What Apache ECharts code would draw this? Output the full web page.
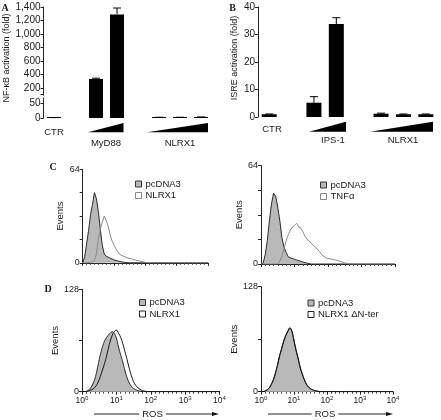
<!DOCTYPE html>
<html><head><meta charset="utf-8">
<script src="https://cdn.jsdelivr.net/npm/echarts@6/dist/echarts.min.js"></script>
<style>html,body{margin:0;padding:0;background:#fff}#c{width:441px;height:420px}</style>
</head><body><div id="c"></div>
<script>
// ---------- data ----------
const catsA = ['CTR', 'gapA1', 'MyD88 low', 'MyD88 high', 'gapA2', 'NLRX1 low', 'NLRX1 mid', 'NLRX1 high'];
const nfkbValues = [1, null, 333, 1290, null, 2, 2, 3];
const nfkbErrors = [0.3, null, 12, 95, null, 0.5, 0.5, 0.5];
const nfkbUpperTicks = [200, 400, 600, 800, 1000, 1200, 1400];
const nfkbLowerTicks = [0, 50];

const catsB = ['CTR', 'gapB1', 'IPS-1 low', 'IPS-1 high', 'gapB2', 'NLRX1 low', 'NLRX1 mid', 'NLRX1 high'];
const isreValues = [1, null, 5.2, 33.8, null, 1.2, 1.0, 1.0];
const isreErrors = [0.1, null, 2.2, 2.3, null, 0.2, 0.1, 0.1];

const groupLabelsA = ['CTR', 'MyD88', 'NLRX1'];
const groupLabelsB = ['CTR', 'IPS-1', 'NLRX1'];

const eventsTicksC = [0, 64];
const eventsTicksD = [0, 128];
const rosExponents = ['0', '1', '2', '3', '4'];

// flow cytometry channels (256 channels = 4 decades)
const rosChannels = [0,4,8,12,16,20,24,28,32,36,40,44,48,52,56,60,64,68,72,76,80,84,88,92,96,100,104,108,112,116,120,124,128,132,136,140,144,148,152,156,160,164,168,172,176,180,184,188,192,196,200,204,208,212,216,220,224,228,232,236,240,244,248,252,256];

const cLeftPcdna3 = [0,4,13,22,33,40,48,44,35,23,12,6,4.5,4.2,3.2,2.8,2,1.7,1.2,0.9,0.6,0.4,0.2,0,
  0,0,0,0,0,0,0,0, 0,0,0,0,0,0,0,0, 0,0,0,0,0,0,0,0, 0,0,0,0,0,0,0,0, 0,0,0,0,0,0,0,0, 0];
const cLeftNlrx1 = [0,0,0,0,0,0,1.5,6,16,23,28,32,29,25,19,15,12,9.5,7.5,5.7,5,4.4,3.6,3.3,3,2.7,2.2,1.8,1.5,1.2,0.9,0.6,0.3,
  0,0,0,0,0,0,0,0, 0,0,0,0,0,0,0,0, 0,0,0,0,0,0,0,0, 0,0,0,0,0,0,0,0];
const cRightPcdna3 = [0,0.5,6,15,28,39,46,44,37,28,17,11,7.5,4.7,4,3.6,3,2.6,2.2,1.7,1.3,0.9,0.6,0.3,
  0,0,0,0,0,0,0,0, 0,0,0,0,0,0,0,0, 0,0,0,0,0,0,0,0, 0,0,0,0,0,0,0,0, 0,0,0,0,0,0,0,0, 0];
const cRightTnfa = [0,0,0,0,0,0,0,0,0,2,5,10,15,19,22,24,25,26.5,24,23.5,21,18,16,15,13.5,12,11,9.5,8,6,5,4,3.6,3.3,3.1,2.8,2.5,2.1,1.6,1.2,0.7,0.4,
  0,0,0,0,0,0,0,0, 0,0,0,0,0,0,0,0, 0,0,0,0,0,0,0];
const dLeftPcdna3 = [0,0,0.5,2,4.5,9.5,16,27,40,51,60,66,70,73,75,73,67,56,46,37,26,17.5,11,6.5,4,2.5,1.3,0.7,0.3,
  0,0,0,0,0,0,0,0, 0,0,0,0,0,0,0,0, 0,0,0,0,0,0,0,0, 0,0,0,0,0,0,0,0, 0,0,0,0];
const dLeftNlrx1 = [0,0,0.3,1,2,3,5.5,9,15,23,31,40,51,62,70,75,77,73,68,60,50,40,29,20,12.5,8,5,3,1.5,0.8,0.3,
  0,0,0,0,0,0,0,0, 0,0,0,0,0,0,0,0, 0,0,0,0,0,0,0,0, 0,0,0,0,0,0,0,0, 0,0];
const dRightPcdna3 = [0,0,1,2.5,4.5,9,14,22,32,43,52,61,68,73,77,73,61,50,40,29,21,14.5,9,5.5,3.5,2.2,1.3,0.7,0.3,
  0,0,0,0,0,0,0,0, 0,0,0,0,0,0,0,0, 0,0,0,0,0,0,0,0, 0,0,0,0,0,0,0,0, 0,0,0,0];
const dRightNlrx1dn = [0,0,0.8,2.2,4.8,9,15,23,33,44,53,62,69,74,78,74,63,51,41,30,22,15,9.5,6,3.8,2.4,1.4,0.8,0.4,0.1,
  0,0,0,0,0,0,0,0, 0,0,0,0,0,0,0,0, 0,0,0,0,0,0,0,0, 0,0,0,0,0,0,0,0, 0,0,0];

// ---------- styling / layout ----------
const FONT = '"Liberation Sans", Arial, Helvetica, sans-serif';
const SERIF = '"Liberation Serif", "Times New Roman", serif';
const TXT = '#1a1a1a';
const AX = '#222';
const GREY_FILL = '#b9b9b9';

// Panel A broken axis geometry
const A_TOP = 7, A_BREAK = 95, A_BOTTOM = 118;
const upperMinVal = 200 - (A_BREAK - 88) / (81 / 1200);
const lowerMaxVal = (A_BOTTOM - A_BREAK) / 0.3;

const chart = echarts.init(document.getElementById('c'), null, {renderer: 'canvas', width: 441, height: 420});

function catX(gridIndex, cats) {
  return {type: 'category', gridIndex, data: cats, show: false, boundaryGap: true};
}
function valY(gridIndex, min, max, o) {
  return Object.assign({
    type: 'value', gridIndex, min, max,
    axisLine: {show: true, lineStyle: {color: AX, width: 1}},
    axisTick: {show: true, length: 3, lineStyle: {color: AX}},
    axisLabel: {fontFamily: FONT, fontSize: 10, color: TXT, margin: 3},
    splitLine: {show: false}
  }, o);
}
function errorBars(xi, yi, values, errors, keep) {
  const data = [];
  values.forEach((v, i) => {
    if (v != null && errors[i] != null && keep(v, errors[i])) data.push([i, v, errors[i]]);
  });
  return {
    type: 'custom', xAxisIndex: xi, yAxisIndex: yi, data, encode: {x: 0, y: 1}, z: 3, silent: true,
    renderItem(params, api) {
      const x = api.value(0), v = api.value(1), e = api.value(2);
      const p0 = api.coord([x, v]), p1 = api.coord([x, v + e]);
      const w = 4;
      return {type: 'group', children: [
        {type: 'line', shape: {x1: p0[0], y1: p0[1], x2: p1[0], y2: p1[1]}, style: {stroke: '#000', lineWidth: 1}},
        {type: 'line', shape: {x1: p1[0] - w, y1: p1[1], x2: p1[0] + w, y2: p1[1]}, style: {stroke: '#000', lineWidth: 1}}
      ]};
    }
  };
}
function rosX(gridIndex, showLabels) {
  return {
    type: 'value', gridIndex, min: 0, max: 256, interval: 64,
    axisLine: {show: true, lineStyle: {color: AX, width: 1}},
    axisTick: {show: true, length: 3, lineStyle: {color: AX}},
    minorTick: {show: true, splitNumber: 8, length: 2, lineStyle: {color: '#444'}},
    splitLine: {show: false},
    axisLabel: showLabels ? {
      margin: 4,
      formatter: v => '{b|10}{s|' + rosExponents[Math.round(v / 64)] + '}',
      rich: {
        b: {fontFamily: FONT, fontSize: 8.5, color: TXT},
        s: {fontFamily: FONT, fontSize: 6, color: TXT, verticalAlign: 'top'}
      }
    } : {show: false}
  };
}
function eventsY(gridIndex, max, interval, labels, gap) {
  return {
    type: 'value', gridIndex, min: 0, max, interval,
    name: 'Events', nameLocation: 'middle', nameRotate: 90, nameGap: gap,
    nameTextStyle: {fontFamily: FONT, fontSize: 9.5, color: TXT},
    axisLine: {show: true, lineStyle: {color: AX, width: 1}},
    axisTick: {show: true, length: 3, lineStyle: {color: AX}},
    axisLabel: {customValues: labels, fontFamily: FONT, fontSize: 9, color: TXT, margin: 3},
    splitLine: {show: false}
  };
}
function pairs(arr) { return rosChannels.map((c, i) => [c, arr[i]]); }
function filledHist(name, xi, yi, arr, smooth) {
  return {type: 'line', name, xAxisIndex: xi, yAxisIndex: yi, data: pairs(arr), symbol: 'none', smooth,
    lineStyle: {color: '#2a2a2a', width: 1}, itemStyle: {color: GREY_FILL},
    areaStyle: {color: GREY_FILL, opacity: 1}, z: 2, silent: true};
}
function openHist(name, xi, yi, arr, smooth, color) {
  return {type: 'line', name, xAxisIndex: xi, yAxisIndex: yi, data: pairs(arr), symbol: 'none', smooth,
    lineStyle: {color, width: 1}, itemStyle: {color: '#fff'}, z: 3, silent: true};
}
function legendAt(left, top, names, fills, borders) {
  return {
    left, top, orient: 'vertical', itemWidth: 6, itemHeight: 6, itemGap: 1.5, padding: 0,
    selectedMode: false,
    textStyle: {fontFamily: FONT, fontSize: 9.5, color: TXT, lineHeight: 10, padding: [0, 0, 0, -1]},
    data: names.map((n, i) => ({name: n, icon: 'rect',
      itemStyle: {color: fills[i], borderColor: borders[i], borderWidth: 1},
      lineStyle: {opacity: 0, width: 0}}))
  };
}
function txt(text, x, y, o) {
  return {type: 'text', x, y, silent: true, style: Object.assign({text, fontFamily: FONT, fontSize: 9.5, fill: TXT, align: 'center', verticalAlign: 'middle'}, o || {})};
}
function tri(x0, x1, yTop, yBot) {
  return {type: 'polygon', silent: true, shape: {points: [[x0, yBot], [x1, yTop], [x1, yBot]]}, style: {fill: '#000'}};
}
function rosArrow(x0, x1, xText, y) {
  return {type: 'group', silent: true, children: [
    {type: 'line', shape: {x1: x0, y1: y, x2: x1 - 5, y2: y}, style: {stroke: '#222', lineWidth: 1}},
    {type: 'polygon', shape: {points: [[x1 - 7, y - 2], [x1, y], [x1 - 7, y + 2]]}, style: {fill: '#111'}},
    {type: 'text', x: xText, y: y, style: {text: 'ROS', fontFamily: FONT, fontSize: 9.5, fill: TXT, align: 'center', verticalAlign: 'middle', backgroundColor: '#fff', padding: [0, 3]}}
  ]};
}

const option = {
  animation: false,
  backgroundColor: '#fff',
  textStyle: {fontFamily: FONT},
  grid: [
    {left: 43.5, top: A_TOP, width: 168, height: A_BREAK - A_TOP, outerBoundsMode: 'none'},
    {left: 43.5, top: A_BREAK, width: 168, height: A_BOTTOM - A_BREAK, outerBoundsMode: 'none'},
    {left: 258, top: 7, width: 179, height: 110, outerBoundsMode: 'none'},
    {left: 82.7, top: 169.3, width: 125.3, height: 93.5, outerBoundsMode: 'none'},
    {left: 261, top: 165.5, width: 134, height: 98.5, outerBoundsMode: 'none'},
    {left: 82, top: 289.3, width: 137.5, height: 102.4, outerBoundsMode: 'none'},
    {left: 261, top: 286.7, width: 132, height: 105, outerBoundsMode: 'none'}
  ],
  xAxis: [
    catX(0, catsA), catX(1, catsA), catX(2, catsB),
    rosX(3, false), rosX(4, false), rosX(5, true), rosX(6, true)
  ],
  yAxis: [
    valY(0, upperMinVal, 1400, {
      axisTick: {show: true, length: 3, lineStyle: {color: AX}, customValues: nfkbUpperTicks.concat([upperMinVal + 12])},
      axisLabel: {customValues: nfkbUpperTicks, fontFamily: FONT, fontSize: 10, color: TXT, margin: 3,
        formatter: v => Number(v).toLocaleString('en-US')}
    }),
    valY(1, 0, lowerMaxVal, {
      axisTick: {show: true, length: 3, lineStyle: {color: AX}, customValues: nfkbLowerTicks},
      axisLabel: {customValues: nfkbLowerTicks, fontFamily: FONT, fontSize: 10, color: TXT, margin: 3}
    }),
    valY(2, 0, 40, {interval: 10}),
    eventsY(3, 64, 16, eventsTicksC, 10),
    eventsY(4, 64, 16, eventsTicksC, 11),
    eventsY(5, 128, 64, eventsTicksD, 12),
    eventsY(6, 128, 64, eventsTicksD, 13)
  ],
  legend: [
    legendAt(135, 179, ['pcDNA3', 'NLRX1'], [GREY_FILL, '#fff'], ['#333', '#888']),
    legendAt(320, 180, ['pcDNA3', 'TNFα'], [GREY_FILL, '#fff'], ['#333', '#888']),
    legendAt(139, 297.5, ['pcDNA3', 'NLRX1'], [GREY_FILL, '#fff'], ['#333', '#222']),
    legendAt(307.5, 298, ['pcDNA3', 'NLRX1 ΔN-ter'], [GREY_FILL, '#fff'], ['#333', '#222'])
  ],
  series: [
    {type: 'bar', xAxisIndex: 0, yAxisIndex: 0, data: nfkbValues, barWidth: 14, itemStyle: {color: '#000'}, clip: true, silent: true},
    {type: 'bar', xAxisIndex: 1, yAxisIndex: 1, data: nfkbValues, barWidth: 14, barMinHeight: 1, itemStyle: {color: '#000'}, clip: true, silent: true},
    errorBars(0, 0, nfkbValues, nfkbErrors, (v, e) => v + e > upperMinVal),
    errorBars(1, 1, nfkbValues, nfkbErrors, (v, e) => v + e < lowerMaxVal),
    {type: 'bar', xAxisIndex: 2, yAxisIndex: 2, data: isreValues, barWidth: 15, itemStyle: {color: '#000'}, silent: true},
    errorBars(2, 2, isreValues, isreErrors, () => true),
    filledHist('pcDNA3', 3, 3, cLeftPcdna3, false),
    openHist('NLRX1', 3, 3, cLeftNlrx1, false, '#8a8a8a'),
    filledHist('pcDNA3', 4, 4, cRightPcdna3, false),
    openHist('TNFα', 4, 4, cRightTnfa, false, '#8a8a8a'),
    filledHist('pcDNA3', 5, 5, dLeftPcdna3, 0.4),
    openHist('NLRX1', 5, 5, dLeftNlrx1, 0.4, '#111'),
    filledHist('pcDNA3', 6, 6, dRightPcdna3, 0.4),
    openHist('NLRX1 ΔN-ter', 6, 6, dRightNlrx1dn, 0.4, '#111')
  ],
  graphic: [
    // panel letters
    txt('A', 5, 8, {fontFamily: SERIF, fontWeight: 'bold', fontSize: 10}),
    txt('B', 232.5, 8, {fontFamily: SERIF, fontWeight: 'bold', fontSize: 10}),
    txt('C', 53, 167, {fontFamily: SERIF, fontWeight: 'bold', fontSize: 10}),
    txt('D', 48, 289, {fontFamily: SERIF, fontWeight: 'bold', fontSize: 10}),
    // y-axis titles of A and B
    {type: 'text', x: 7, y: 58, rotation: Math.PI / 2, silent: true,
      style: {text: 'NF-κB activation (fold)', fontFamily: FONT, fontSize: 9, fill: TXT, align: 'center', verticalAlign: 'middle'}},
    {type: 'text', x: 235, y: 58, rotation: Math.PI / 2, silent: true,
      style: {text: 'ISRE activation (fold)', fontFamily: FONT, fontSize: 9, fill: TXT, align: 'center', verticalAlign: 'middle'}},
    // axis break on panel A
    {type: 'rect', silent: true, shape: {x: 41.5, y: 95.6, width: 5, height: 2}, style: {fill: '#fff'}, z: 100},
    // group labels
    txt(groupLabelsA[0], 54, 132), txt(groupLabelsA[1], 106, 143), txt(groupLabelsA[2], 180, 143),
    txt(groupLabelsB[0], 272, 129.5), txt(groupLabelsB[1], 333, 140.5), txt(groupLabelsB[2], 403, 140.5),
    // dose wedges
    tri(88, 123.5, 123, 132.3), tri(147, 208, 123, 132.3),
    tri(309, 346, 121.7, 131.7), tri(370, 433, 121.7, 131.7),
    // ROS arrows
    rosArrow(94, 219, 152.5, 414), rosArrow(268, 393, 325, 414)
  ]
};
chart.setOption(option);
</script>
</body></html>
